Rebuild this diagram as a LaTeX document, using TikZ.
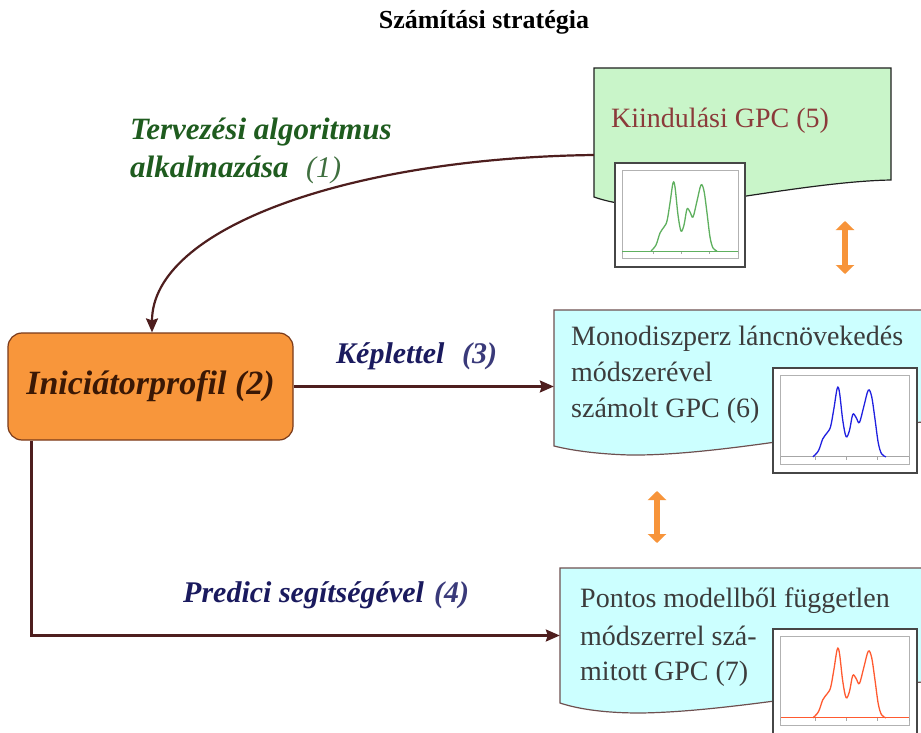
\documentclass[tikz,border=0pt]{standalone}
\usepackage{fontspec}
\setmainfont{Liberation Serif}
\usetikzlibrary{arrows.meta}
\definecolor{docgreen}{HTML}{C9F5C9}
\definecolor{doccyan}{HTML}{CCFFFF}
\definecolor{orangebox}{HTML}{F8963B}
\definecolor{orangeedge}{HTML}{7A3A1A}
\definecolor{connc}{HTML}{4E1E1E}
\definecolor{lblgreen}{HTML}{1F5C1F}
\definecolor{lblgreenlt}{HTML}{3F6F3F}
\definecolor{lblnavy}{HTML}{1A1A5E}
\definecolor{lblnavylt}{HTML}{3A3A7A}
\definecolor{txtred}{HTML}{8B3A3A}
\definecolor{txtgray}{HTML}{3C3C3C}
\definecolor{initxt}{HTML}{3A1805}
\definecolor{arrorange}{HTML}{F7943A}
\definecolor{cyedge}{HTML}{6E5050}
\definecolor{plotgreen}{HTML}{5FB05F}
\definecolor{plotblue}{HTML}{2020E0}
\definecolor{plotred}{HTML}{FF5A30}
\newcommand{\gpcplot}[6]{%
\begin{scope}[shift={(#1,#2)}, xscale=#3/130, yscale=#4/104]
 \fill[white] (0,0) rectangle (130,104);
 \draw[draw=gray!55!black, line width=1.6] (0,0) rectangle (130,104);
 \draw[draw=gray!60, line width=0.8] (7,7) rectangle (123,95);
 \draw[gray!70, line width=1] (7,88) -- (123,88);
 \foreach \tk in {7,38,66,94,123} \draw[gray!70, line width=0.6] (\tk,88) -- (\tk,91);
 \draw[#6, line width=1] (7,88) -- (123,88);
 \draw[#5, line width=1.3] plot[smooth, tension=0.55] coordinates {(36,88) (41,82) (45,70) (49,64) (52,58) (55,40) (58,20) (60,24) (63,52) (66,68) (69,62) (72,46) (75,49) (78,54) (82,38) (86,22) (89,28) (92,50) (95,74) (98,85) (102,88)};
\end{scope}}
\tikzset{
  conn/.style={draw=connc, line width=2.2, -{Stealth[length=14pt,width=12pt,inset=2pt]}},
  dbl/.style={draw=arrorange, line width=6.5, {Triangle[length=9pt,width=18pt]}-{Triangle[length=9pt,width=18pt]}},
  lbl/.style={anchor=base west, inner sep=0, font=\bfseries\itshape\fontsize{30}{36}\selectfont},
  boxtxt/.style={anchor=base west, inner sep=0, text=txtgray, font=\fontsize{28}{34}\selectfont},
}
\begin{document}
\begin{tikzpicture}[x=1pt,y=-1pt]
\useasboundingbox (0,0) rectangle (921,733);
\fill[white] (0,0) rectangle (921,733);
\clip (0,0) rectangle (921,733);

% title
\node[font=\bfseries\fontsize{26}{30}\selectfont] (title) at (484,22) {Számítási stratégia};

% green document (5)
\path[draw=gray!25!black, fill=docgreen, line width=1.2] (594,68) -- (891,68) -- (891,180) .. controls (830,181) and (740,198) .. (690,204) .. controls (650,208) and (620,206) .. (594,197) -- cycle;
\node[inner sep=0, minimum width=297, minimum height=129] (kiind) at (742.5,132.5) {};
\node[anchor=base west, inner sep=0, text=txtred, font=\fontsize{28}{34}\selectfont] (t5) at (611,128) {Kiindulási GPC (5)};
\gpcplot{615}{163}{130}{104}{plotgreen}{plotgreen}

% cyan document (6)
\path[draw=cyedge, fill=doccyan, line width=1.2] (554,310) -- (935,310) -- (935,421) .. controls (860,426) and (720,456) .. (630,455) .. controls (595,454) and (570,450) .. (554,446) -- cycle;
\node[inner sep=0, minimum width=367, minimum height=136] (mono) at (737.5,378) {};
\node[boxtxt] (t6a) at (571,345) {Monodiszperz láncnövekedés};
\node[boxtxt] (t6b) at (571,381) {módszerével};
\node[boxtxt] (t6c) at (571,417) {számolt GPC (6)};
\gpcplot{773}{368}{144}{105}{plotblue}{gray!70}

% cyan document (7)
\path[draw=cyedge, fill=doccyan, line width=1.2] (560,568) -- (935,568) -- (935,681) .. controls (860,686) and (730,712) .. (640,713) .. controls (600,713) and (575,708) .. (560,703) -- cycle;
\node[inner sep=0, minimum width=361, minimum height=135] (pont) at (740.5,635.5) {};
\node[boxtxt] (t7a) at (580,607) {Pontos modellből független};
\node[boxtxt] (t7b) at (580,645) {módszerrel szá-};
\node[boxtxt] (t7c) at (580,680) {mitott GPC (7)};
\gpcplot{773}{629}{144}{105}{plotred}{plotred}

% initiator box (2)
\node[draw=orangeedge, fill=orangebox, rounded corners=14pt, line width=1.2, minimum width=285, minimum height=107, text=initxt, font=\bfseries\itshape\fontsize{34}{40}\selectfont] (init) at (150.5,386.5) {Iniciátorprofil (2)};

% connectors
\draw[conn] ([yshift=-22.5pt]kiind.west) .. controls (350,158) and (152,228) .. ([xshift=1.5pt]init.north);
\draw[conn] (init.east) -- (init.east -| mono.west);
\draw[conn] ([xshift=24pt]init.south west) |- (pont.west);

% labels
\node[lbl, text=lblgreen, font=\bfseries\itshape\fontsize{31}{36}\selectfont] (l1a) at (130,140) {Tervezési algoritmus};
\node[lbl, text=lblgreen, font=\bfseries\itshape\fontsize{31}{36}\selectfont] (l1b) at (130,177) {alkalmazása};
\node[lbl, text=lblgreenlt, font=\itshape\fontsize{30}{36}\selectfont] (l1c) at (306,177) {(1)};
\node[lbl, text=lblnavy] (l3a) at (336,363) {Képlettel};
\node[lbl, text=lblnavylt] (l3b) at (462,363) {(3)};
\node[lbl, text=lblnavy] (l4a) at (183,602) {Predici segítségével};
\node[lbl, text=lblnavylt] (l4b) at (434,602) {(4)};

% orange double arrows
\coordinate (o1a) at (845,221);
\coordinate (o1b) at (845,274);
\coordinate (o2a) at (657,491);
\coordinate (o2b) at (657,543);
\draw[dbl] (o1a) -- (o1b);
\draw[dbl] (o2a) -- (o2b);
\end{tikzpicture}
\end{document}
